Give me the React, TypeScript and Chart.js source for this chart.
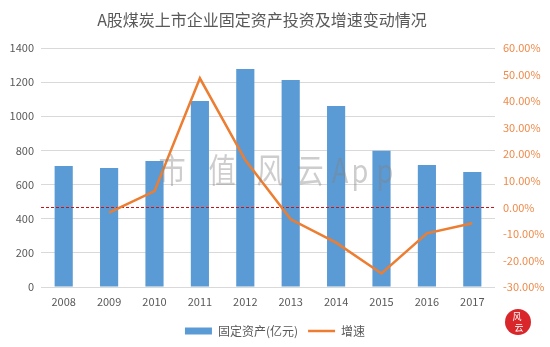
import React, { useEffect, useRef } from "react";
import { Chart, registerables } from "chart.js";

Chart.register(...registerables);

const years = ["2008", "2009", "2010", "2011", "2012", "2013", "2014", "2015", "2016", "2017"];
// 固定资产投资（亿元）
const fixedAssets = [709, 697, 738, 1090, 1277, 1213, 1060, 798, 715, 674];
// 增速（%）
const growth: (number | null)[] = [null, -2.0, 6.1, 48.6, 17.8, -4.5, -13.3, -24.9, -9.8, -6.0];

const TITLE = "A股煤炭上市企业固定资产投资及增速变动情况";
const FONT = "'Noto Sans CJK SC', 'Noto Sans', sans-serif";

const overlayPlugin = {
  id: "overlay",
  afterDatasetDraw(chart: any, args: any) {
    if (args.index !== 0) return;
    // zero-growth reference line on the right axis
    const { ctx, chartArea } = chart;
    const y = chart.scales.y1.getPixelForValue(0);
    ctx.save();
    ctx.strokeStyle = "#D01010";
    ctx.lineWidth = 1;
    ctx.setLineDash([3, 2]);
    ctx.beginPath();
    ctx.moveTo(chartArea.left, Math.round(y) + 0.5);
    ctx.lineTo(chartArea.right, Math.round(y) + 0.5);
    ctx.stroke();
    ctx.restore();
  },
  afterDraw(chart: any) {
    const { ctx } = chart;
    ctx.save();
    // title
    ctx.fillStyle = "#595959";
    ctx.font = `16px ${FONT}`;
    ctx.textAlign = "center";
    ctx.textBaseline = "middle";
    ctx.fillText(TITLE, 262, 20);

    // watermark
    const marks: [string, number][] = [
      ["市", 172], ["值", 222], ["风", 270], ["云", 310], ["A", 340], ["p", 360], ["p", 385],
    ];
    ctx.fillStyle = "rgba(130,130,130,0.4)";
    ctx.font = `32px ${FONT}`;
    for (const [ch, x] of marks) {
      ctx.save();
      ctx.translate(x, 170);
      ctx.scale(0.85, 1.05);
      ctx.fillText(ch, 0, 0);
      ctx.restore();
    }

    // corner seal
    ctx.fillStyle = "#D9262B";
    ctx.beginPath();
    ctx.arc(518, 322, 13, 0, Math.PI * 2);
    ctx.fill();
    ctx.fillStyle = "#FFFFFF";
    ctx.font = `9px ${FONT}`;
    ctx.fillText("风", 517, 317);
    ctx.fillText("云", 519, 328);
    ctx.restore();
  },
};

export default function App() {
  const canvasRef = useRef<HTMLCanvasElement | null>(null);

  useEffect(() => {
    if (!canvasRef.current) return;
    const chart = new Chart(canvasRef.current, {
      type: "bar",
      data: {
        labels: years,
        datasets: [
          {
            type: "bar",
            label: "固定资产(亿元)",
            data: fixedAssets,
            backgroundColor: "#5B9BD5",
            borderWidth: 0,
            barPercentage: 0.4,
            categoryPercentage: 1,
            yAxisID: "y",
            order: 1,
            pointStyle: "rect",
          } as any,
          {
            type: "line",
            label: "增速",
            data: growth,
            borderColor: "#ED7D31",
            backgroundColor: "#ED7D31",
            borderWidth: 2.5,
            pointRadius: 0,
            tension: 0,
            yAxisID: "y1",
            order: 0,
            pointStyle: "line",
          } as any,
        ],
      },
      options: {
        responsive: false,
        animation: false,
        layout: { padding: { top: 48, left: 0, right: 0, bottom: 0 } },
        plugins: {
          title: { display: false },
          tooltip: { enabled: false },
          legend: {
            position: "bottom",
            labels: {
              usePointStyle: true,
              pointStyleWidth: 27,
              boxHeight: 7,
              padding: 10,
              color: "#595959",
              font: { size: 12, family: FONT },
              sort: (a: any, b: any) => a.datasetIndex - b.datasetIndex,
            },
          },
        },
        scales: {
          x: {
            grid: { display: false, drawTicks: false },
            border: { display: false },
            ticks: { color: "#595959", padding: 8, font: { size: 11, family: FONT } },
            afterFit: (s: any) => { s.height = 28; },
          },
          y: {
            position: "left",
            min: 0,
            max: 1400,
            ticks: {
              stepSize: 200,
              color: "#595959",
              padding: 7,
              font: { size: 11, family: FONT },
              callback: (v: any) => String(v),
            },
            grid: { color: "#D9D9D9", drawTicks: false },
            border: { display: false },
            afterFit: (s: any) => { s.width = 41; },
          },
          y1: {
            position: "right",
            min: -30,
            max: 60,
            ticks: {
              stepSize: 10,
              color: "#EE8A4A",
              padding: 8,
              font: { size: 11, family: FONT },
              callback: (v: any) => Number(v).toFixed(2) + "%",
            },
            grid: { display: false, drawTicks: false },
            border: { display: false },
            afterFit: (s: any) => { s.width = 55; },
          },
        },
      },
      plugins: [overlayPlugin],
    } as any);
    return () => chart.destroy();
  }, []);

  return (
    <div style={{ position: "fixed", left: 0, top: 0, width: 550, height: 347, background: "#fff" }}>
      <canvas ref={canvasRef} width={550} height={347} style={{ width: 550, height: 347 }} />
    </div>
  );
}
